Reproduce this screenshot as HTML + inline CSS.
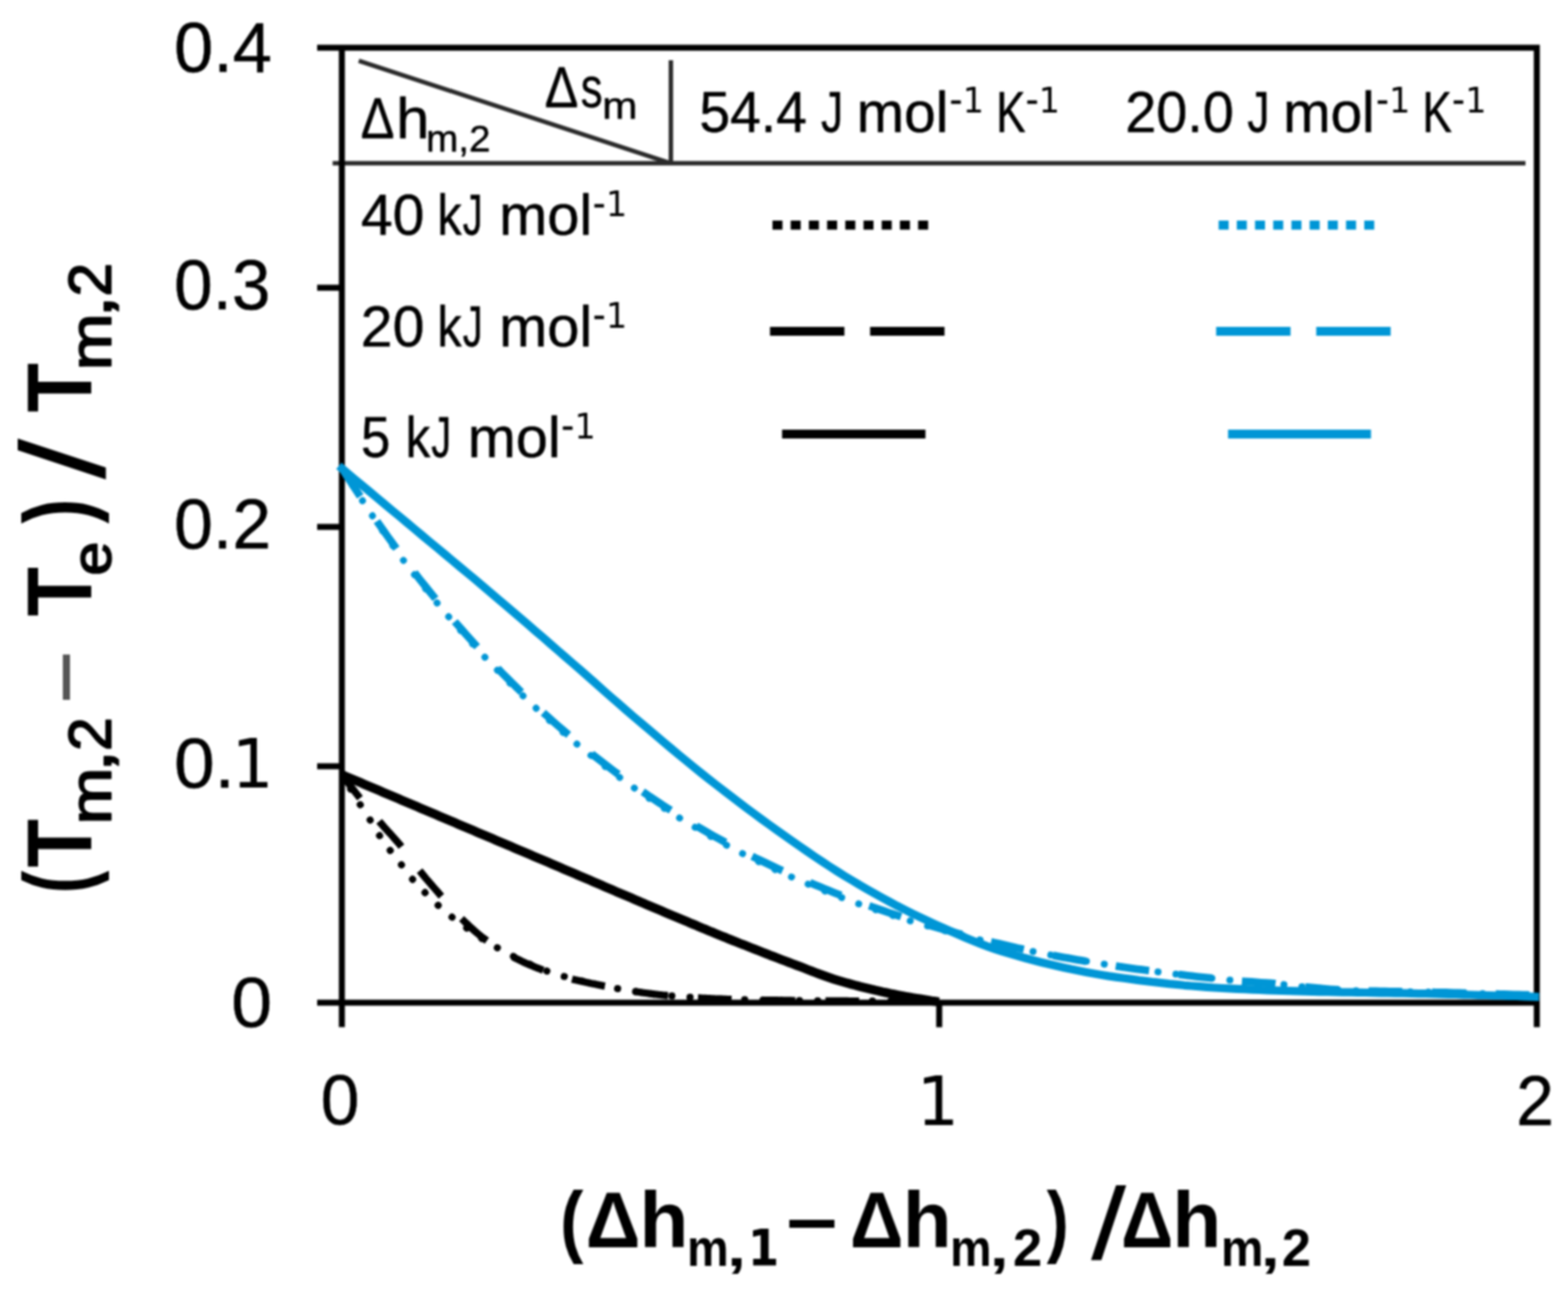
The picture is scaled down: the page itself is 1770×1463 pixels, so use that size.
<!DOCTYPE html>
<html lang="en"><head><meta charset="utf-8"><title>Eutectic temperature depression</title>
<style>html,body{margin:0;padding:0;background:#fff;width:1770px;height:1463px;overflow:hidden}svg{display:block;filter:blur(.8px)}text{font-family:"Liberation Sans",sans-serif;fill:#000;font-kerning:none}.d{font-family:"DejaVu Sans","Liberation Sans",sans-serif}.r{stroke:#000;stroke-width:.5px;stroke-linejoin:round}.r2{stroke:#000;stroke-width:1.9px;stroke-linejoin:round}</style>
</head><body>
<svg width="1770" height="1463" viewBox="0 0 1770 1463">
<rect width="1770" height="1463" fill="#fff"/>
<g stroke="#2a2a2a" stroke-width="5" fill="none">
<line x1="375.5" y1="184.2" x2="1722" y2="184.2"/>
<line x1="757.3" y1="68" x2="757.3" y2="184.2"/>
<line x1="405" y1="68.6" x2="755" y2="183.6"/>
</g>
<g stroke="#000" stroke-width="6.8" fill="none">
<path d="M358 53.8 H1734.8 V1159.6"/>
<path d="M385.9 53.8 V1159.6"/>
<path d="M358 1131.8 H1734.8"/>
<path d="M358 324.8 H385.9"/>
<path d="M358 594.8 H385.9"/>
<path d="M358 865.0 H385.9"/>
<path d="M1060.2 1131.8 V1159.6"/>
</g>
<g fill="none" stroke-linejoin="round">
<path d="M386.2 874.9 L388.5 878.6 L390.7 882.3 L393.0 886.1 L395.2 889.8 L397.5 893.5 L399.7 897.2 L402.0 900.9 L404.2 904.6 L406.5 908.2 L408.7 911.7 L411.0 915.1 L413.2 918.5 L415.5 922.0 L417.7 925.5 L420.0 929.3 L422.3 933.1 L424.5 936.9 L426.8 940.7 L429.0 944.2 L431.3 947.5 L433.5 950.7 L435.8 953.8 L438.0 956.8 L440.3 959.8 L442.5 962.8 L444.8 965.7 L447.0 968.5 L449.3 971.4 L451.6 974.2 L453.8 977.1 L456.1 980.1 L458.3 983.2 L460.6 986.2 L462.8 989.1 L465.1 991.9 L467.3 994.5 L469.6 997.0 L471.8 999.4 L474.1 1001.8 L476.3 1004.1 L478.6 1006.4 L480.8 1008.7 L483.1 1010.9 L485.4 1013.2 L487.6 1015.4 L489.9 1017.6 L492.1 1019.7 L494.4 1021.8 L496.6 1023.8 L498.9 1025.8 L501.1 1027.8 L503.4 1029.7 L505.6 1031.6 L507.9 1033.4 L510.1 1035.2 L512.4 1036.9 L514.7 1038.6 L516.9 1040.3 L519.2 1042.0 L521.4 1043.7 L523.7 1045.3 L525.9 1047.0 L528.2 1048.6 L530.4 1050.2 L532.7 1051.8 L534.9 1053.4 L537.2 1054.9 L539.4 1056.4 L541.7 1057.9 L543.9 1059.4 L546.2 1060.8 L548.5 1062.3 L550.7 1063.7 L553.0 1065.0 L555.2 1066.4 L557.5 1067.7 L559.7 1069.0 L562.0 1070.2 L564.2 1071.5 L566.5 1072.7 L568.7 1073.9 L571.0 1075.1 L573.2 1076.3 L575.5 1077.5 L577.7 1078.6 L580.0 1079.8 L582.3 1080.9 L584.5 1082.0 L586.8 1083.1 L589.0 1084.2 L591.3 1085.3 L593.5 1086.3 L595.8 1087.3 L598.0 1088.3 L600.3 1089.3 L602.5 1090.3 L604.8 1091.2 L607.0 1092.1 L609.3 1093.1 L611.6 1093.9 L613.8 1094.8 L616.1 1095.7 L618.3 1096.5 L620.6 1097.3 L622.8 1098.0 L625.1 1098.8 L627.3 1099.5 L629.6 1100.2 L631.8 1100.8 L634.1 1101.5 L636.3 1102.1 L638.6 1102.7 L640.8 1103.3 L643.1 1103.9 L645.4 1104.5 L647.6 1105.1 L649.9 1105.7 L652.1 1106.3 L654.4 1106.8 L656.6 1107.4 L658.9 1108.0 L661.1 1108.5 L663.4 1109.1 L665.6 1109.6 L667.9 1110.1 L670.1 1110.6 L672.4 1111.1 L674.6 1111.6 L676.9 1112.1 L679.2 1112.6 L681.4 1113.1 L683.7 1113.5 L685.9 1114.0 L688.2 1114.4 L690.4 1114.8 L692.7 1115.2 L694.9 1115.6 L697.2 1116.0 L699.4 1116.4 L701.7 1116.8 L703.9 1117.2 L706.2 1117.5 L708.5 1117.9 L710.7 1118.3 L713.0 1118.6 L715.2 1119.0 L717.5 1119.3 L719.7 1119.7 L722.0 1120.0 L724.2 1120.4 L726.5 1120.7 L728.7 1121.0 L731.0 1121.3 L733.2 1121.6 L735.5 1121.9 L737.7 1122.2 L740.0 1122.5 L742.3 1122.7 L744.5 1123.0 L746.8 1123.2 L749.0 1123.5 L751.3 1123.7 L753.5 1123.9 L755.8 1124.1 L758.0 1124.3 L760.3 1124.5 L762.5 1124.7 L764.8 1124.9 L767.0 1125.0 L769.3 1125.2 L771.6 1125.4 L773.8 1125.5 L776.1 1125.7 L778.3 1125.8 L780.6 1126.0 L782.8 1126.1 L785.1 1126.3 L787.3 1126.4 L789.6 1126.6 L791.8 1126.7 L794.1 1126.8 L796.3 1126.9 L798.6 1127.1 L800.8 1127.2 L803.1 1127.3 L805.4 1127.4 L807.6 1127.5 L809.9 1127.6 L812.1 1127.7 L814.4 1127.7 L816.6 1127.8 L818.9 1127.9 L821.1 1128.0 L823.4 1128.0 L825.6 1128.1 L827.9 1128.2 L830.1 1128.2 L832.4 1128.3 L834.6 1128.3 L836.9 1128.4 L839.2 1128.5 L841.4 1128.5 L843.7 1128.6 L845.9 1128.6 L848.2 1128.7 L850.4 1128.7 L852.7 1128.8 L854.9 1128.8 L857.2 1128.9 L859.4 1128.9 L861.7 1129.0 L863.9 1129.0 L866.2 1129.0 L868.5 1129.1 L870.7 1129.1 L873.0 1129.1 L875.2 1129.2 L877.5 1129.2 L879.7 1129.3 L882.0 1129.3 L884.2 1129.3 L886.5 1129.3 L888.7 1129.4 L891.0 1129.4 L893.2 1129.4 L895.5 1129.5 L897.7 1129.5 L900.0 1129.5 L902.3 1129.5 L904.5 1129.5 L906.8 1129.6 L909.0 1129.6 L911.3 1129.6 L913.5 1129.6 L915.8 1129.6 L918.0 1129.7 L920.3 1129.7 L922.5 1129.7 L924.8 1129.7 L927.0 1129.7 L929.3 1129.8 L931.5 1129.8 L933.8 1129.8 L936.1 1129.8 L938.3 1129.8 L940.6 1129.8 L942.8 1129.9 L945.1 1129.9 L947.3 1129.9 L949.6 1129.9 L951.8 1129.9 L954.1 1129.9 L956.3 1129.9 L958.6 1130.0 L960.8 1130.0 L963.1 1130.0 L965.4 1130.0 L967.6 1130.0 L969.9 1130.0 L972.1 1130.0 L974.4 1130.0 L976.6 1130.1 L978.9 1130.1 L981.1 1130.1 L983.4 1130.1 L985.6 1130.1 L987.9 1130.1 L990.1 1130.1 L992.4 1130.1 L994.6 1130.2 L996.9 1130.2 L999.2 1130.2 L1001.4 1130.2 L1003.7 1130.2 L1005.9 1130.2 L1008.2 1130.2 L1010.4 1130.2 L1012.7 1130.2 L1014.9 1130.3 L1017.2 1130.3 L1019.4 1130.3 L1021.7 1130.3 L1023.9 1130.3 L1026.2 1130.3 L1028.5 1130.3 L1030.7 1130.3 L1033.0 1130.3 L1035.2 1130.4 L1037.5 1130.4 L1039.7 1130.4 L1042.0 1130.4 L1044.2 1130.4 L1046.5 1130.4 L1048.7 1130.4 L1051.0 1130.4 L1053.2 1130.5 L1055.5 1130.5 L1057.7 1130.5 L1060.0 1130.5" stroke="#000" stroke-width="8" stroke-linecap="round" stroke-dasharray="0.1 20.5" stroke-dashoffset="-18.6"/>
<path d="M386.2 874.9 L388.5 877.9 L390.7 880.9 L393.0 883.8 L395.2 886.8 L397.5 889.7 L399.7 892.6 L402.0 895.5 L404.2 898.3 L406.5 901.2 L408.7 904.0 L411.0 906.7 L413.2 909.5 L415.5 912.2 L417.7 915.0 L420.0 917.7 L422.3 920.4 L424.5 923.1 L426.8 925.7 L429.0 928.4 L431.3 930.9 L433.5 933.5 L435.8 936.0 L438.0 938.5 L440.3 940.9 L442.5 943.4 L444.8 946.0 L447.0 948.5 L449.3 951.2 L451.6 953.8 L453.8 956.6 L456.1 959.5 L458.3 962.5 L460.6 965.5 L462.8 968.5 L465.1 971.6 L467.3 974.6 L469.6 977.6 L471.8 980.5 L474.1 983.3 L476.3 986.1 L478.6 988.9 L480.8 991.6 L483.1 994.2 L485.4 996.9 L487.6 999.5 L489.9 1002.1 L492.1 1004.7 L494.4 1007.3 L496.6 1009.9 L498.9 1012.5 L501.1 1015.1 L503.4 1017.7 L505.6 1020.3 L507.9 1022.9 L510.1 1025.5 L512.4 1028.0 L514.7 1030.4 L516.9 1032.8 L519.2 1035.2 L521.4 1037.4 L523.7 1039.6 L525.9 1041.8 L528.2 1043.9 L530.4 1046.0 L532.7 1048.1 L534.9 1050.1 L537.2 1052.1 L539.4 1054.0 L541.7 1055.9 L543.9 1057.7 L546.2 1059.4 L548.5 1061.1 L550.7 1062.7 L553.0 1064.3 L555.2 1065.9 L557.5 1067.4 L559.7 1068.9 L562.0 1070.4 L564.2 1071.8 L566.5 1073.1 L568.7 1074.5 L571.0 1075.8 L573.2 1077.0 L575.5 1078.3 L577.7 1079.5 L580.0 1080.6 L582.3 1081.8 L584.5 1082.9 L586.8 1084.0 L589.0 1085.1 L591.3 1086.2 L593.5 1087.2 L595.8 1088.2 L598.0 1089.2 L600.3 1090.1 L602.5 1091.1 L604.8 1092.0 L607.0 1092.9 L609.3 1093.7 L611.6 1094.6 L613.8 1095.4 L616.1 1096.2 L618.3 1097.0 L620.6 1097.7 L622.8 1098.5 L625.1 1099.2 L627.3 1100.0 L629.6 1100.7 L631.8 1101.3 L634.1 1102.0 L636.3 1102.7 L638.6 1103.3 L640.8 1103.9 L643.1 1104.5 L645.4 1105.1 L647.6 1105.7 L649.9 1106.2 L652.1 1106.7 L654.4 1107.3 L656.6 1107.8 L658.9 1108.3 L661.1 1108.8 L663.4 1109.2 L665.6 1109.7 L667.9 1110.2 L670.1 1110.6 L672.4 1111.1 L674.6 1111.5 L676.9 1112.0 L679.2 1112.4 L681.4 1112.9 L683.7 1113.3 L685.9 1113.8 L688.2 1114.2 L690.4 1114.7 L692.7 1115.1 L694.9 1115.5 L697.2 1116.0 L699.4 1116.4 L701.7 1116.8 L703.9 1117.2 L706.2 1117.6 L708.5 1118.0 L710.7 1118.3 L713.0 1118.7 L715.2 1119.0 L717.5 1119.4 L719.7 1119.7 L722.0 1120.0 L724.2 1120.4 L726.5 1120.7 L728.7 1121.0 L731.0 1121.3 L733.2 1121.6 L735.5 1121.9 L737.7 1122.2 L740.0 1122.5 L742.3 1122.7 L744.5 1123.0 L746.8 1123.2 L749.0 1123.5 L751.3 1123.7 L753.5 1123.9 L755.8 1124.1 L758.0 1124.2 L760.3 1124.4 L762.5 1124.6 L764.8 1124.8 L767.0 1125.0 L769.3 1125.1 L771.6 1125.3 L773.8 1125.5 L776.1 1125.6 L778.3 1125.8 L780.6 1125.9 L782.8 1126.1 L785.1 1126.2 L787.3 1126.4 L789.6 1126.5 L791.8 1126.7 L794.1 1126.8 L796.3 1126.9 L798.6 1127.0 L800.8 1127.1 L803.1 1127.3 L805.4 1127.4 L807.6 1127.5 L809.9 1127.6 L812.1 1127.7 L814.4 1127.7 L816.6 1127.8 L818.9 1127.9 L821.1 1128.0 L823.4 1128.0 L825.6 1128.1 L827.9 1128.2 L830.1 1128.2 L832.4 1128.3 L834.6 1128.4 L836.9 1128.4 L839.2 1128.5 L841.4 1128.5 L843.7 1128.6 L845.9 1128.6 L848.2 1128.7 L850.4 1128.7 L852.7 1128.8 L854.9 1128.8 L857.2 1128.9 L859.4 1128.9 L861.7 1129.0 L863.9 1129.0 L866.2 1129.0 L868.5 1129.1 L870.7 1129.1 L873.0 1129.1 L875.2 1129.2 L877.5 1129.2 L879.7 1129.3 L882.0 1129.3 L884.2 1129.3 L886.5 1129.3 L888.7 1129.4 L891.0 1129.4 L893.2 1129.4 L895.5 1129.5 L897.7 1129.5 L900.0 1129.5 L902.3 1129.5 L904.5 1129.5 L906.8 1129.6 L909.0 1129.6 L911.3 1129.6 L913.5 1129.6 L915.8 1129.6 L918.0 1129.7 L920.3 1129.7 L922.5 1129.7 L924.8 1129.7 L927.0 1129.7 L929.3 1129.8 L931.5 1129.8 L933.8 1129.8 L936.1 1129.8 L938.3 1129.8 L940.6 1129.8 L942.8 1129.9 L945.1 1129.9 L947.3 1129.9 L949.6 1129.9 L951.8 1129.9 L954.1 1129.9 L956.3 1129.9 L958.6 1130.0 L960.8 1130.0 L963.1 1130.0 L965.4 1130.0 L967.6 1130.0 L969.9 1130.0 L972.1 1130.0 L974.4 1130.0 L976.6 1130.1 L978.9 1130.1 L981.1 1130.1 L983.4 1130.1 L985.6 1130.1 L987.9 1130.1 L990.1 1130.1 L992.4 1130.1 L994.6 1130.2 L996.9 1130.2 L999.2 1130.2 L1001.4 1130.2 L1003.7 1130.2 L1005.9 1130.2 L1008.2 1130.2 L1010.4 1130.2 L1012.7 1130.2 L1014.9 1130.3 L1017.2 1130.3 L1019.4 1130.3 L1021.7 1130.3 L1023.9 1130.3 L1026.2 1130.3 L1028.5 1130.3 L1030.7 1130.3 L1033.0 1130.3 L1035.2 1130.4 L1037.5 1130.4 L1039.7 1130.4 L1042.0 1130.4 L1044.2 1130.4 L1046.5 1130.4 L1048.7 1130.4 L1051.0 1130.4 L1053.2 1130.5 L1055.5 1130.5 L1057.7 1130.5 L1060.0 1130.5" stroke="#000" stroke-width="8.2" stroke-dasharray="38 34" stroke-dashoffset="5"/>
<path d="M385.9 528.5 L391.1 536.8 L396.3 545.0 L401.4 553.2 L406.6 561.2 L411.8 569.2 L417.0 577.0 L422.1 584.8 L427.3 592.5 L432.5 600.1 L437.7 607.6 L442.8 615.0 L448.0 622.4 L453.2 629.6 L458.4 636.5 L463.5 643.2 L468.7 649.9 L473.9 656.5 L479.1 663.0 L484.2 669.4 L489.4 675.8 L494.6 682.1 L499.8 688.3 L504.9 694.4 L510.1 700.4 L515.3 706.4 L520.5 712.3 L525.6 718.2 L530.8 723.9 L536.0 729.6 L541.2 735.3 L546.3 740.8 L551.5 746.3 L556.7 751.8 L561.9 757.1 L567.0 762.4 L572.2 767.6 L577.4 772.8 L582.6 777.9 L587.7 782.9 L592.9 787.9 L598.1 792.8 L603.3 797.7 L608.4 802.5 L613.6 807.2 L618.8 811.9 L624.0 816.5 L629.1 821.1 L634.3 825.6 L639.5 830.0 L644.7 834.4 L649.8 838.7 L655.0 843.0 L660.2 847.3 L665.4 851.4 L670.5 855.5 L675.7 859.6 L680.9 863.6 L686.1 867.6 L691.2 871.5 L696.4 875.4 L701.6 879.2 L706.8 882.9 L711.9 886.7 L717.1 890.3 L722.3 893.9 L727.5 897.5 L732.6 901.0 L737.8 904.5 L743.0 908.0 L748.2 911.3 L753.3 914.7 L758.5 918.0 L763.7 921.2 L768.9 924.5 L774.0 927.6 L779.2 930.8 L784.4 933.8 L789.6 936.9 L794.7 939.9 L799.9 942.9 L805.1 945.8 L810.3 948.7 L815.4 951.5 L820.6 954.3 L825.8 957.1 L831.0 959.8 L836.1 962.5 L841.3 965.2 L846.5 967.8 L851.7 970.4 L856.8 972.9 L862.0 975.4 L867.2 977.9 L872.4 980.4 L877.5 982.8 L882.7 985.2 L887.9 987.5 L893.1 989.8 L898.2 992.1 L903.4 994.3 L908.6 996.6 L913.8 998.7 L918.9 1000.9 L924.1 1003.0 L929.3 1005.1 L934.5 1007.2 L939.6 1009.2 L944.8 1011.2 L950.0 1013.2 L955.2 1015.1 L960.3 1017.0 L965.5 1018.9 L970.7 1020.8 L975.9 1022.6 L981.0 1024.4 L986.2 1026.2 L991.4 1028.0 L996.6 1029.7 L1001.7 1031.4 L1006.9 1033.1 L1012.1 1034.8 L1017.3 1036.4 L1022.4 1038.0 L1027.6 1039.6 L1032.8 1041.1 L1038.0 1042.7 L1043.1 1044.2 L1048.3 1045.7 L1053.5 1047.2 L1058.7 1048.6 L1063.8 1050.0 L1069.0 1051.4 L1074.2 1052.8 L1079.4 1054.2 L1084.5 1055.5 L1089.7 1056.8 L1094.9 1058.1 L1100.1 1059.4 L1105.2 1060.7 L1110.4 1061.9 L1115.6 1063.1 L1120.8 1064.3 L1125.9 1065.5 L1131.1 1066.7 L1136.3 1067.8 L1141.5 1069.0 L1146.6 1070.1 L1151.8 1071.2 L1157.0 1072.3 L1162.2 1073.3 L1167.3 1074.4 L1172.5 1075.4 L1177.7 1076.4 L1182.9 1077.4 L1188.0 1078.4 L1193.2 1079.4 L1198.4 1080.3 L1203.6 1081.2 L1208.7 1082.2 L1213.9 1083.1 L1219.1 1084.0 L1224.3 1084.8 L1229.4 1085.7 L1234.6 1086.5 L1239.8 1087.4 L1245.0 1088.2 L1250.1 1089.0 L1255.3 1089.8 L1260.5 1090.6 L1265.7 1091.4 L1270.8 1092.1 L1276.0 1092.9 L1281.2 1093.6 L1286.4 1094.3 L1291.5 1095.0 L1296.7 1095.7 L1301.9 1096.4 L1307.1 1097.1 L1312.2 1097.8 L1317.4 1098.4 L1322.6 1099.1 L1327.8 1099.7 L1332.9 1100.3 L1338.1 1100.9 L1343.3 1101.5 L1348.5 1102.1 L1353.6 1102.7 L1358.8 1103.3 L1364.0 1103.8 L1369.2 1104.4 L1374.3 1104.9 L1379.5 1105.5 L1384.7 1106.0 L1389.9 1106.5 L1395.0 1107.0 L1400.2 1107.5 L1405.4 1107.9 L1410.6 1108.3 L1415.7 1108.6 L1420.9 1109.0 L1426.1 1109.4 L1431.3 1109.7 L1436.4 1110.1 L1441.6 1110.5 L1446.8 1111.2 L1452.0 1111.8 L1457.1 1112.4 L1462.3 1113.0 L1467.5 1113.6 L1472.7 1114.1 L1477.8 1114.6 L1483.0 1115.1 L1488.2 1115.6 L1493.4 1116.0 L1498.5 1116.4 L1503.7 1116.8 L1508.9 1117.2 L1514.1 1117.6 L1519.2 1117.9 L1524.4 1118.2 L1529.6 1118.5 L1534.8 1118.6 L1539.9 1118.7 L1545.1 1118.8 L1550.3 1118.9 L1555.5 1119.0 L1560.6 1119.1 L1565.8 1119.1 L1571.0 1119.2 L1576.2 1119.3 L1581.3 1119.4 L1586.5 1119.5 L1591.7 1119.6 L1596.9 1119.7 L1602.1 1119.8 L1607.2 1119.9 L1612.4 1120.0 L1617.6 1120.1 L1622.8 1120.2 L1627.9 1120.3 L1633.1 1120.5 L1638.3 1120.6 L1643.5 1120.7 L1648.6 1120.9 L1653.8 1121.0 L1659.0 1121.2 L1664.2 1121.3 L1669.3 1121.5 L1674.5 1121.6 L1679.7 1121.8 L1684.9 1121.9 L1690.0 1122.1 L1695.2 1122.2 L1700.4 1122.4 L1705.6 1122.6 L1710.7 1122.7 L1715.9 1122.9 L1721.1 1123.0 L1726.3 1123.2 L1731.4 1123.3" stroke="#0096d6" stroke-width="7.8" stroke-linecap="round" stroke-dasharray="0.1 20.32" stroke-dashoffset="-2.6"/>
<path d="M385.9 528.5 L391.1 536.6 L396.3 544.7 L401.5 552.6 L406.7 560.5 L411.8 568.3 L417.0 576.0 L422.2 583.6 L427.4 591.1 L432.6 598.5 L437.8 605.9 L443.0 613.1 L448.2 620.3 L453.3 627.4 L458.5 634.2 L463.7 641.0 L468.9 647.7 L474.1 654.3 L479.3 660.8 L484.5 667.2 L489.7 673.6 L494.8 679.9 L500.0 686.1 L505.2 692.3 L510.4 698.3 L515.6 704.3 L520.8 710.2 L526.0 716.1 L531.2 721.9 L536.4 727.6 L541.5 733.2 L546.7 738.8 L551.9 744.3 L557.1 749.7 L562.3 755.1 L567.5 760.4 L572.7 765.6 L577.9 770.8 L583.0 775.9 L588.2 781.0 L593.4 785.9 L598.6 790.9 L603.8 795.7 L609.0 800.5 L614.2 805.3 L619.4 809.9 L624.6 814.6 L629.7 819.1 L634.9 823.6 L640.1 828.1 L645.3 832.5 L650.5 836.8 L655.7 841.1 L660.9 845.3 L666.1 849.5 L671.2 853.6 L676.4 857.7 L681.6 861.7 L686.8 865.7 L692.0 869.6 L697.2 873.5 L702.4 877.3 L707.6 881.0 L712.7 884.8 L717.9 888.4 L723.1 892.1 L728.3 895.6 L733.5 899.2 L738.7 902.6 L743.9 906.1 L749.1 909.5 L754.3 912.8 L759.4 916.1 L764.6 919.4 L769.8 922.6 L775.0 925.7 L780.2 928.9 L785.4 932.0 L790.6 935.0 L795.8 938.0 L800.9 941.0 L806.1 943.9 L811.3 946.8 L816.5 949.6 L821.7 952.4 L826.9 955.2 L832.1 957.9 L837.3 960.6 L842.5 963.3 L847.6 965.9 L852.8 968.5 L858.0 971.0 L863.2 973.5 L868.4 976.0 L873.6 978.5 L878.8 980.9 L884.0 983.3 L889.1 985.6 L894.3 987.9 L899.5 990.2 L904.7 992.4 L909.9 994.6 L915.1 996.8 L920.3 999.0 L925.5 1001.1 L930.6 1003.2 L935.8 1005.3 L941.0 1007.4 L946.2 1009.5 L951.4 1011.5 L956.6 1013.5 L961.8 1015.4 L967.0 1017.4 L972.2 1019.3 L977.3 1021.2 L982.5 1023.0 L987.7 1024.8 L992.9 1026.6 L998.1 1028.4 L1003.3 1030.2 L1008.5 1031.9 L1013.7 1033.6 L1018.8 1035.3 L1024.0 1036.9 L1029.2 1038.5 L1034.4 1040.2 L1039.6 1041.7 L1044.8 1043.3 L1050.0 1044.8 L1055.2 1046.3 L1060.3 1047.8 L1065.5 1049.3 L1070.7 1050.7 L1075.9 1052.2 L1081.1 1053.6 L1086.3 1055.0 L1091.5 1056.3 L1096.7 1057.7 L1101.9 1059.0 L1107.0 1060.3 L1112.2 1061.6 L1117.4 1062.9 L1122.6 1064.1 L1127.8 1065.3 L1133.0 1066.5 L1138.2 1067.7 L1143.4 1068.9 L1148.5 1070.1 L1153.7 1071.2 L1158.9 1072.3 L1164.1 1073.4 L1169.3 1074.5 L1174.5 1075.6 L1179.7 1076.7 L1184.9 1077.7 L1190.1 1078.7 L1195.2 1079.7 L1200.4 1080.7 L1205.6 1081.6 L1210.8 1082.5 L1216.0 1083.4 L1221.2 1084.3 L1226.4 1085.2 L1231.6 1086.0 L1236.7 1086.9 L1241.9 1087.7 L1247.1 1088.5 L1252.3 1089.4 L1257.5 1090.1 L1262.7 1090.9 L1267.9 1091.7 L1273.1 1092.4 L1278.2 1093.2 L1283.4 1093.9 L1288.6 1094.6 L1293.8 1095.3 L1299.0 1096.0 L1304.2 1096.7 L1309.4 1097.4 L1314.6 1098.1 L1319.8 1098.7 L1324.9 1099.3 L1330.1 1100.0 L1335.3 1100.6 L1340.5 1101.2 L1345.7 1101.8 L1350.9 1102.4 L1356.1 1103.0 L1361.3 1103.5 L1366.4 1104.1 L1371.6 1104.7 L1376.8 1105.2 L1382.0 1105.7 L1387.2 1106.3 L1392.4 1106.8 L1397.6 1107.3 L1402.8 1107.7 L1408.0 1108.1 L1413.1 1108.4 L1418.3 1108.8 L1423.5 1109.2 L1428.7 1109.5 L1433.9 1109.9 L1439.1 1110.2 L1444.3 1110.9 L1449.5 1111.5 L1454.6 1112.1 L1459.8 1112.7 L1465.0 1113.3 L1470.2 1113.9 L1475.4 1114.4 L1480.6 1114.9 L1485.8 1115.4 L1491.0 1115.8 L1496.1 1116.3 L1501.3 1116.7 L1506.5 1117.1 L1511.7 1117.4 L1516.9 1117.8 L1522.1 1118.1 L1527.3 1118.4 L1532.5 1118.6 L1537.7 1118.7 L1542.8 1118.8 L1548.0 1118.9 L1553.2 1118.9 L1558.4 1119.0 L1563.6 1119.1 L1568.8 1119.2 L1574.0 1119.3 L1579.2 1119.4 L1584.3 1119.5 L1589.5 1119.5 L1594.7 1119.6 L1599.9 1119.7 L1605.1 1119.8 L1610.3 1119.9 L1615.5 1120.1 L1620.7 1120.2 L1625.9 1120.3 L1631.0 1120.4 L1636.2 1120.5 L1641.4 1120.7 L1646.6 1120.8 L1651.8 1121.0 L1657.0 1121.1 L1662.2 1121.3 L1667.4 1121.4 L1672.5 1121.6 L1677.7 1121.7 L1682.9 1121.9 L1688.1 1122.0 L1693.3 1122.2 L1698.5 1122.3 L1703.7 1122.5 L1708.9 1122.7 L1714.0 1122.8 L1719.2 1123.0 L1724.4 1123.1 L1729.6 1123.3 L1734.8 1123.4 L1737.3 1123.5" stroke="#0096d6" stroke-width="8.6" stroke-dasharray="38 33.75"/>
<path d="M386.0 874.6 L390.2 876.4 L394.5 878.2 L398.7 880.0 L403.0 881.8 L407.2 883.6 L411.4 885.4 L415.7 887.2 L419.9 889.0 L424.2 890.8 L428.4 892.6 L432.6 894.4 L436.9 896.2 L441.1 898.0 L445.3 899.8 L449.6 901.6 L453.8 903.4 L458.1 905.2 L462.3 907.0 L466.5 908.8 L470.8 910.6 L475.0 912.4 L479.3 914.2 L483.5 916.0 L487.7 917.8 L492.0 919.6 L496.2 921.4 L500.5 923.2 L504.7 925.0 L508.9 926.8 L513.2 928.6 L517.4 930.4 L521.6 932.2 L525.9 934.0 L530.1 935.8 L534.4 937.6 L538.6 939.4 L542.8 941.2 L547.1 943.0 L551.3 944.8 L555.6 946.6 L559.8 948.4 L564.0 950.2 L568.3 952.0 L572.5 953.8 L576.8 955.6 L581.0 957.4 L585.2 959.2 L589.5 961.0 L593.7 962.8 L597.9 964.6 L602.2 966.4 L606.4 968.2 L610.7 970.0 L614.9 971.8 L619.1 973.6 L623.4 975.5 L627.6 977.3 L631.9 979.1 L636.1 980.9 L640.3 982.7 L644.6 984.5 L648.8 986.3 L653.1 988.2 L657.3 990.0 L661.5 991.8 L665.8 993.6 L670.0 995.4 L674.3 997.3 L678.5 999.1 L682.7 1000.9 L687.0 1002.7 L691.2 1004.5 L695.4 1006.4 L699.7 1008.2 L703.9 1010.0 L708.2 1011.8 L712.4 1013.6 L716.6 1015.4 L720.9 1017.2 L725.1 1019.1 L729.4 1020.9 L733.6 1022.7 L737.8 1024.5 L742.1 1026.3 L746.3 1028.1 L750.6 1029.9 L754.8 1031.7 L759.0 1033.4 L763.3 1035.2 L767.5 1037.0 L771.7 1038.8 L776.0 1040.6 L780.2 1042.4 L784.5 1044.1 L788.7 1045.9 L792.9 1047.7 L797.2 1049.4 L801.4 1051.2 L805.7 1052.9 L809.9 1054.7 L814.1 1056.4 L818.4 1058.1 L822.6 1059.9 L826.9 1061.6 L831.1 1063.3 L835.3 1065.0 L839.6 1066.6 L843.8 1068.3 L848.1 1070.0 L852.3 1071.6 L856.5 1073.3 L860.8 1075.0 L865.0 1076.6 L869.2 1078.3 L873.5 1079.9 L877.7 1081.5 L882.0 1083.2 L886.2 1084.8 L890.4 1086.4 L894.7 1088.0 L898.9 1089.6 L903.2 1091.2 L907.4 1092.8 L911.6 1094.5 L915.9 1096.1 L920.1 1097.7 L924.4 1099.3 L928.6 1100.9 L932.8 1102.4 L937.1 1103.9 L941.3 1105.3 L945.5 1106.6 L949.8 1107.9 L954.0 1109.1 L958.3 1110.3 L962.5 1111.4 L966.7 1112.6 L971.0 1113.7 L975.2 1114.7 L979.5 1115.8 L983.7 1116.8 L987.9 1117.8 L992.2 1118.7 L996.4 1119.7 L1000.7 1120.6 L1004.9 1121.5 L1009.1 1122.3 L1013.4 1123.2 L1017.6 1124.0 L1021.8 1124.8 L1026.1 1125.5 L1030.3 1126.3 L1034.6 1127.0 L1038.8 1127.7 L1043.0 1128.4 L1047.3 1129.1 L1051.5 1129.8 L1055.8 1130.4 L1060.0 1131.0" stroke="#000" stroke-width="10.3"/>
<path d="M382.5 525.9 L391.0 533.0 L399.5 540.2 L408.1 547.3 L416.6 554.4 L425.1 561.6 L433.6 568.6 L442.1 575.7 L450.7 582.8 L459.2 589.9 L467.7 597.0 L476.2 604.1 L484.7 611.2 L493.3 618.3 L501.8 625.4 L510.3 632.5 L518.8 639.6 L527.4 646.7 L535.9 653.8 L544.4 661.0 L552.9 668.2 L561.4 675.4 L570.0 682.7 L578.5 690.0 L587.0 697.3 L595.5 704.6 L604.0 712.0 L612.6 719.3 L621.1 726.7 L629.6 734.1 L638.1 741.5 L646.6 748.9 L655.2 756.3 L663.7 763.8 L672.2 771.3 L680.7 778.9 L689.2 786.4 L697.8 793.8 L706.3 801.2 L714.8 808.6 L723.3 815.8 L731.9 823.1 L740.4 830.3 L748.9 837.5 L757.4 844.6 L765.9 851.7 L774.5 858.7 L783.0 865.7 L791.5 872.6 L800.0 879.3 L808.5 886.0 L817.1 892.6 L825.6 899.2 L834.1 905.7 L842.6 912.1 L851.1 918.4 L859.7 924.7 L868.2 930.9 L876.7 937.0 L885.2 943.0 L893.7 949.0 L902.3 955.0 L910.8 960.9 L919.3 966.7 L927.8 972.4 L936.3 978.0 L944.9 983.5 L953.4 988.8 L961.9 993.9 L970.4 999.0 L979.0 1003.9 L987.5 1008.8 L996.0 1013.5 L1004.5 1018.1 L1013.0 1022.7 L1021.6 1027.0 L1030.1 1031.3 L1038.6 1035.3 L1047.1 1039.3 L1055.6 1043.3 L1064.2 1047.2 L1072.7 1051.0 L1081.2 1054.8 L1089.7 1058.5 L1098.2 1062.0 L1106.8 1065.4 L1115.3 1068.6 L1123.8 1071.6 L1132.3 1074.4 L1140.8 1076.9 L1149.4 1079.4 L1157.9 1081.7 L1166.4 1084.0 L1174.9 1086.2 L1183.5 1088.3 L1192.0 1090.3 L1200.5 1092.2 L1209.0 1094.1 L1217.5 1095.8 L1226.1 1097.5 L1234.6 1099.0 L1243.1 1100.5 L1251.6 1101.9 L1260.1 1103.1 L1268.7 1104.3 L1277.2 1105.4 L1285.7 1106.6 L1294.2 1107.6 L1302.7 1108.7 L1311.3 1109.6 L1319.8 1110.6 L1328.3 1111.4 L1336.8 1112.3 L1345.3 1113.0 L1353.9 1113.7 L1362.4 1114.4 L1370.9 1115.0 L1379.4 1115.5 L1387.9 1115.9 L1396.5 1116.3 L1405.0 1116.7 L1413.5 1117.1 L1422.0 1117.5 L1430.6 1117.8 L1439.1 1118.1 L1447.6 1118.4 L1456.1 1118.6 L1464.6 1118.9 L1473.2 1119.1 L1481.7 1119.3 L1490.2 1119.6 L1498.7 1119.7 L1507.2 1119.9 L1515.8 1120.1 L1524.3 1120.2 L1532.8 1120.4 L1541.3 1120.5 L1549.8 1120.7 L1558.4 1120.8 L1566.9 1121.0 L1575.4 1121.1 L1583.9 1121.2 L1592.4 1121.4 L1601.0 1121.6 L1609.5 1121.7 L1618.0 1121.9 L1626.5 1122.1 L1635.1 1122.3 L1643.6 1122.5 L1652.1 1122.8 L1660.6 1123.0 L1669.1 1123.3 L1677.7 1123.5 L1686.2 1123.8 L1694.7 1124.0 L1703.2 1124.3 L1711.7 1124.5 L1720.3 1124.8 L1728.8 1125.1 L1737.3 1125.3" stroke="#0096d6" stroke-width="9.2"/>
</g>
<g fill="none" stroke-width="10.2">
<path d="M872 254.2 H1051" stroke="#000" stroke-dasharray="11.3 9.25"/>
<path d="M869.2 374 H1066.2" stroke="#000" stroke-dasharray="84 29"/>
<path d="M882.8 490 H1044.7" stroke="#000"/>
<path d="M1375.6 254.2 H1555" stroke="#0096d6" stroke-dasharray="11.3 9.25"/>
<path d="M1372.8 374 H1569.8" stroke="#0096d6" stroke-dasharray="84 29"/>
<path d="M1386.3 490 H1547.6" stroke="#0096d6"/>
</g>
<text><tspan x="196.5" y="81.2" font-size="80.0" textLength="110.5" lengthAdjust="spacingAndGlyphs" class="r">0.4</tspan></text>
<text><tspan x="196.5" y="348.7" font-size="80.0" textLength="108.7" lengthAdjust="spacingAndGlyphs" class="r">0.3</tspan></text>
<text><tspan x="196.5" y="618.8" font-size="80.0" textLength="109.5" lengthAdjust="spacingAndGlyphs" class="r">0.2</tspan></text>
<text><tspan x="196.4" y="888.8" font-size="80.0" textLength="68.7" lengthAdjust="spacingAndGlyphs" class="r">0.</tspan><tspan x="261.6" y="889.4" font-size="76.4" textLength="47.3" lengthAdjust="spacingAndGlyphs" class="d">1</tspan></text>
<text><tspan x="261.0" y="1158.7" font-size="80.0" textLength="46.2" lengthAdjust="spacingAndGlyphs" class="r">0</tspan></text>
<text><tspan x="361.9" y="1269.2" font-size="80.0" textLength="43.7" lengthAdjust="spacingAndGlyphs" class="r">0</tspan></text>
<text><tspan x="1034.7" y="1269.5" font-size="76.4" textLength="47.9" lengthAdjust="spacingAndGlyphs" class="d">1</tspan></text>
<text><tspan x="1711.4" y="1269.5" font-size="80.0" textLength="42.6" lengthAdjust="spacingAndGlyphs" class="r">2</tspan></text>
<text><tspan x="615.1" y="120.7" font-size="64.0" textLength="37.8" lengthAdjust="spacingAndGlyphs" class="r">Δ</tspan><tspan x="655.6" y="120.7" font-size="64.0" textLength="24.7" lengthAdjust="spacingAndGlyphs" class="r">s</tspan><tspan x="679.8" y="133.7" font-size="42.0" textLength="39.8" lengthAdjust="spacingAndGlyphs" class="r">m</tspan></text>
<text><tspan x="407.3" y="156.3" font-size="64.0" textLength="38.0" lengthAdjust="spacingAndGlyphs" class="r">Δ</tspan><tspan x="447.2" y="156.3" font-size="64.0" textLength="37.4" lengthAdjust="spacingAndGlyphs" class="r">h</tspan><tspan x="481.1" y="170.5" font-size="42.0" textLength="72.6" lengthAdjust="spacingAndGlyphs" class="r">m,2</tspan></text>
<text><tspan x="789.6" y="149.3" font-size="64.0" textLength="121.2" lengthAdjust="spacingAndGlyphs" class="r">54.4</tspan> <tspan x="926.7" y="149.3" font-size="64.0" textLength="25.0" lengthAdjust="spacingAndGlyphs" class="r">J</tspan> <tspan x="967.1" y="149.3" font-size="64.0" textLength="103.5" lengthAdjust="spacingAndGlyphs" class="r">mol</tspan><tspan x="1072.1" y="127.2" font-size="42.0" textLength="14.2" lengthAdjust="spacingAndGlyphs" class="r">-</tspan><tspan x="1086.7" y="127.2" font-size="39.8" textLength="24.0" lengthAdjust="spacingAndGlyphs" class="d">1</tspan> <tspan x="1124.5" y="149.3" font-size="64.0" textLength="33.2" lengthAdjust="spacingAndGlyphs" class="r">K</tspan><tspan x="1158.0" y="127.2" font-size="42.0" textLength="14.2" lengthAdjust="spacingAndGlyphs" class="r">-</tspan><tspan x="1172.6" y="127.2" font-size="39.8" textLength="24.0" lengthAdjust="spacingAndGlyphs" class="d">1</tspan></text>
<text><tspan x="1270.2" y="149.3" font-size="64.0" textLength="122.5" lengthAdjust="spacingAndGlyphs" class="r">20.0</tspan> <tspan x="1408.0" y="149.3" font-size="64.0" textLength="25.0" lengthAdjust="spacingAndGlyphs" class="r">J</tspan> <tspan x="1448.4" y="149.3" font-size="64.0" textLength="103.5" lengthAdjust="spacingAndGlyphs" class="r">mol</tspan><tspan x="1553.4" y="127.2" font-size="42.0" textLength="14.2" lengthAdjust="spacingAndGlyphs" class="r">-</tspan><tspan x="1568.0" y="127.2" font-size="39.8" textLength="24.0" lengthAdjust="spacingAndGlyphs" class="d">1</tspan> <tspan x="1605.8" y="149.3" font-size="64.0" textLength="33.2" lengthAdjust="spacingAndGlyphs" class="r">K</tspan><tspan x="1639.3" y="127.2" font-size="42.0" textLength="14.2" lengthAdjust="spacingAndGlyphs" class="r">-</tspan><tspan x="1653.9" y="127.2" font-size="39.8" textLength="24.0" lengthAdjust="spacingAndGlyphs" class="d">1</tspan></text>
<text><tspan x="407.5" y="265.1" font-size="64.0" textLength="71.4" lengthAdjust="spacingAndGlyphs" class="r">40</tspan> <tspan x="493.5" y="265.1" font-size="64.0" textLength="27.6" lengthAdjust="spacingAndGlyphs" class="r">k</tspan><tspan x="522.3" y="265.1" font-size="64.0" textLength="22.6" lengthAdjust="spacingAndGlyphs" class="r">J</tspan> <tspan x="563.5" y="265.1" font-size="64.0" textLength="104.9" lengthAdjust="spacingAndGlyphs" class="r">mol</tspan><tspan x="669.3" y="244.1" font-size="42.0" textLength="14.2" lengthAdjust="spacingAndGlyphs" class="r">-</tspan><tspan x="683.9" y="244.1" font-size="39.8" textLength="24.0" lengthAdjust="spacingAndGlyphs" class="d">1</tspan></text>
<text><tspan x="407.3" y="390.6" font-size="64.0" textLength="71.7" lengthAdjust="spacingAndGlyphs" class="r">20</tspan> <tspan x="493.5" y="390.6" font-size="64.0" textLength="27.6" lengthAdjust="spacingAndGlyphs" class="r">k</tspan><tspan x="522.3" y="390.6" font-size="64.0" textLength="22.6" lengthAdjust="spacingAndGlyphs" class="r">J</tspan> <tspan x="563.5" y="390.6" font-size="64.0" textLength="104.9" lengthAdjust="spacingAndGlyphs" class="r">mol</tspan><tspan x="669.3" y="369.6" font-size="42.0" textLength="14.2" lengthAdjust="spacingAndGlyphs" class="r">-</tspan><tspan x="683.9" y="369.6" font-size="39.8" textLength="24.0" lengthAdjust="spacingAndGlyphs" class="d">1</tspan></text>
<text><tspan x="407.4" y="516.1" font-size="64.0" textLength="33.1" lengthAdjust="spacingAndGlyphs" class="r">5</tspan> <tspan x="458.0" y="516.1" font-size="64.0" textLength="27.6" lengthAdjust="spacingAndGlyphs" class="r">k</tspan><tspan x="486.8" y="516.1" font-size="64.0" textLength="22.6" lengthAdjust="spacingAndGlyphs" class="r">J</tspan> <tspan x="528.0" y="516.1" font-size="64.0" textLength="104.9" lengthAdjust="spacingAndGlyphs" class="r">mol</tspan><tspan x="633.8" y="495.1" font-size="42.0" textLength="14.2" lengthAdjust="spacingAndGlyphs" class="r">-</tspan><tspan x="648.4" y="495.1" font-size="39.8" textLength="24.0" lengthAdjust="spacingAndGlyphs" class="d">1</tspan></text>
<text><tspan x="632.3" y="1407.9" font-size="88.5" textLength="26.3" lengthAdjust="spacingAndGlyphs" font-weight="bold">(</tspan><tspan x="661.2" y="1408.4" font-size="88.5" textLength="61.7" lengthAdjust="spacingAndGlyphs" font-weight="bold">Δ</tspan><tspan x="721.8" y="1408.4" font-size="88.5" textLength="55.5" lengthAdjust="spacingAndGlyphs" font-weight="bold">h</tspan><tspan x="775.6" y="1429.4" font-size="60.0" textLength="47.1" lengthAdjust="spacingAndGlyphs" font-weight="bold">m</tspan><tspan x="820.8" y="1429.4" font-size="60.0" textLength="21.4" lengthAdjust="spacingAndGlyphs" font-weight="bold">,</tspan><tspan x="844.2" y="1429.4" font-size="56.2" textLength="35.3" lengthAdjust="spacingAndGlyphs" font-weight="bold" class="d">1</tspan> <tspan x="890.9" y="1415.4" font-size="134.0" textLength="51.0" lengthAdjust="spacingAndGlyphs">–</tspan> <tspan x="959.6" y="1408.4" font-size="88.5" textLength="60.3" lengthAdjust="spacingAndGlyphs" font-weight="bold">Δ</tspan><tspan x="1018.9" y="1408.4" font-size="88.5" textLength="55.3" lengthAdjust="spacingAndGlyphs" font-weight="bold">h</tspan><tspan x="1072.6" y="1429.4" font-size="60.0" textLength="46.8" lengthAdjust="spacingAndGlyphs" font-weight="bold">m</tspan><tspan x="1117.3" y="1429.4" font-size="60.0" textLength="21.4" lengthAdjust="spacingAndGlyphs" font-weight="bold">,</tspan><tspan x="1143.6" y="1429.4" font-size="60.0" textLength="33.0" lengthAdjust="spacingAndGlyphs" font-weight="bold">2</tspan><tspan x="1181.6" y="1407.9" font-size="88.5" textLength="25.0" lengthAdjust="spacingAndGlyphs" font-weight="bold">)</tspan> <tspan x="1235.2" y="1419.6" font-size="113.5" textLength="27.4" lengthAdjust="spacingAndGlyphs" font-weight="bold" font-style="italic">/</tspan><tspan x="1265.4" y="1408.4" font-size="88.5" textLength="58.9" lengthAdjust="spacingAndGlyphs" font-weight="bold">Δ</tspan><tspan x="1323.3" y="1408.4" font-size="88.5" textLength="55.5" lengthAdjust="spacingAndGlyphs" font-weight="bold">h</tspan><tspan x="1378.2" y="1429.4" font-size="60.0" textLength="48.0" lengthAdjust="spacingAndGlyphs" font-weight="bold">m</tspan><tspan x="1423.3" y="1429.4" font-size="60.0" textLength="21.4" lengthAdjust="spacingAndGlyphs" font-weight="bold">,</tspan><tspan x="1446.9" y="1429.4" font-size="60.0" textLength="32.9" lengthAdjust="spacingAndGlyphs" font-weight="bold">2</tspan></text>
<text transform="translate(102.9 1006.0) rotate(-90)"><tspan x="-2.5" y="-1.8" font-size="106.6" textLength="25.5" lengthAdjust="spacingAndGlyphs" font-weight="bold">(</tspan><tspan x="26.7" y="0.0" font-size="104.4" textLength="54.6" lengthAdjust="spacingAndGlyphs" font-weight="bold">T</tspan><tspan x="75.2" y="22.0" font-size="66.0" textLength="64.1" lengthAdjust="spacingAndGlyphs" class="r2">m</tspan><tspan x="134.3" y="22.0" font-size="66.0" textLength="25.5" lengthAdjust="spacingAndGlyphs" class="r2">,</tspan><tspan x="158.3" y="22.0" font-size="69.0" textLength="38.0" lengthAdjust="spacingAndGlyphs" class="r2">2</tspan> <tspan x="216.0" y="2.9" font-size="120.0" textLength="51.2" lengthAdjust="spacingAndGlyphs" style="fill:#555">–</tspan> <tspan x="310.3" y="0.0" font-size="104.4" textLength="55.9" lengthAdjust="spacingAndGlyphs" font-weight="bold">T</tspan><tspan x="356.3" y="22.0" font-size="63.0" textLength="38.3" lengthAdjust="spacingAndGlyphs" class="r2">e</tspan><tspan x="415.1" y="-1.8" font-size="106.6" textLength="28.2" lengthAdjust="spacingAndGlyphs" font-weight="bold">)</tspan> <tspan x="469.1" y="14.1" font-size="133.5" textLength="31.9" lengthAdjust="spacingAndGlyphs" font-weight="bold" font-style="italic">/</tspan> <tspan x="540.5" y="0.0" font-size="104.4" textLength="55.9" lengthAdjust="spacingAndGlyphs" font-weight="bold">T</tspan><tspan x="588.1" y="22.0" font-size="66.0" textLength="64.1" lengthAdjust="spacingAndGlyphs" class="r2">m</tspan><tspan x="647.3" y="22.0" font-size="66.0" textLength="25.5" lengthAdjust="spacingAndGlyphs" class="r2">,</tspan><tspan x="671.2" y="22.0" font-size="69.0" textLength="38.0" lengthAdjust="spacingAndGlyphs" class="r2">2</tspan></text>
</svg></body></html>
